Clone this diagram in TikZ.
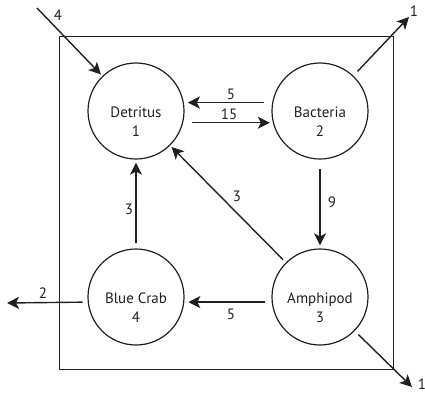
\documentclass[tikz,border=0pt]{standalone}
\usepackage{fontspec}
\setmainfont{PT Sans}
\usetikzlibrary{arrows.meta}
\definecolor{ink}{HTML}{231F20}
\tikzset{
  comp/.style={circle,draw=ink,line width=1.2pt,minimum size=96pt,inner sep=0pt},
  ctext/.style={align=center,text=ink,font=\fontsize{15}{19}\selectfont},
  flow/.style={draw=ink,line width=1.4pt,-{Stealth[length=12pt,width=12pt,inset=3pt]}},
  num/.style={text=ink,font=\fontsize{15}{18}\selectfont,inner sep=0pt}
}
\begin{document}
\begin{tikzpicture}[x=1pt,y=-1pt]
\useasboundingbox (0,0) rectangle (425,394);
\draw[ink,line width=0.8pt] (59,36) rectangle (393,369);
\node[comp] (D) at (136,111) {};
\node[comp] (B) at (320,111) {};
\node[comp] (C) at (136,297) {};
\node[comp] (A) at (320,297) {};
\node[ctext] (Dt) at (136,122) {Detritus\\1};
\node[ctext] (Bt) at (320,122) {Bacteria\\2};
\node[ctext] (Ct) at (136,308) {Blue Crab\\4};
\node[ctext] (At) at (320,308) {Amphipod\\3};
\coordinate (in4) at (37,8);
\coordinate (outB) at (409,17);
\coordinate (outA) at (412,387);
\coordinate (outC) at (7,303);
% flows
\draw[flow,shorten >=2pt] (in4) -- (D);
\draw[flow,shorten <=6pt] (B) -- (outB);
\draw[flow,shorten <=5pt] (A) -- (outA);
\draw[flow,shorten <=5pt] (C.186) -- (outC);
\draw[flow,shorten <=8pt,shorten >=4pt] (B.170) -- (D.10);
\draw[flow,shorten <=9pt,shorten >=3pt] (D.-14) -- (B.194);
\draw[flow,shorten <=9pt,shorten >=3pt] (B.south) -- (A.north);
\draw[flow,shorten <=4pt,shorten >=2pt] (A) -- (D);
\draw[flow,shorten <=5pt,shorten >=3pt] (C.north) -- (D.south);
\draw[flow,shorten <=7pt,shorten >=4pt] (A.186) -- (C.-6);
% labels
\node[num] (l4) at (58,15) {4};
\node[num] (l1a) at (414,11) {1};
\node[num] (l5a) at (231,94) {5};
\node[num] (l15) at (229,114) {15};
\node[num] (l9) at (332,202) {9};
\node[num] (l3a) at (237,196) {3};
\node[num] (l3b) at (129,209) {3};
\node[num] (l5b) at (231,314) {5};
\node[num] (l2) at (43,293) {2};
\node[num] (l1b) at (422,384) {1};
\end{tikzpicture}
\end{document}
